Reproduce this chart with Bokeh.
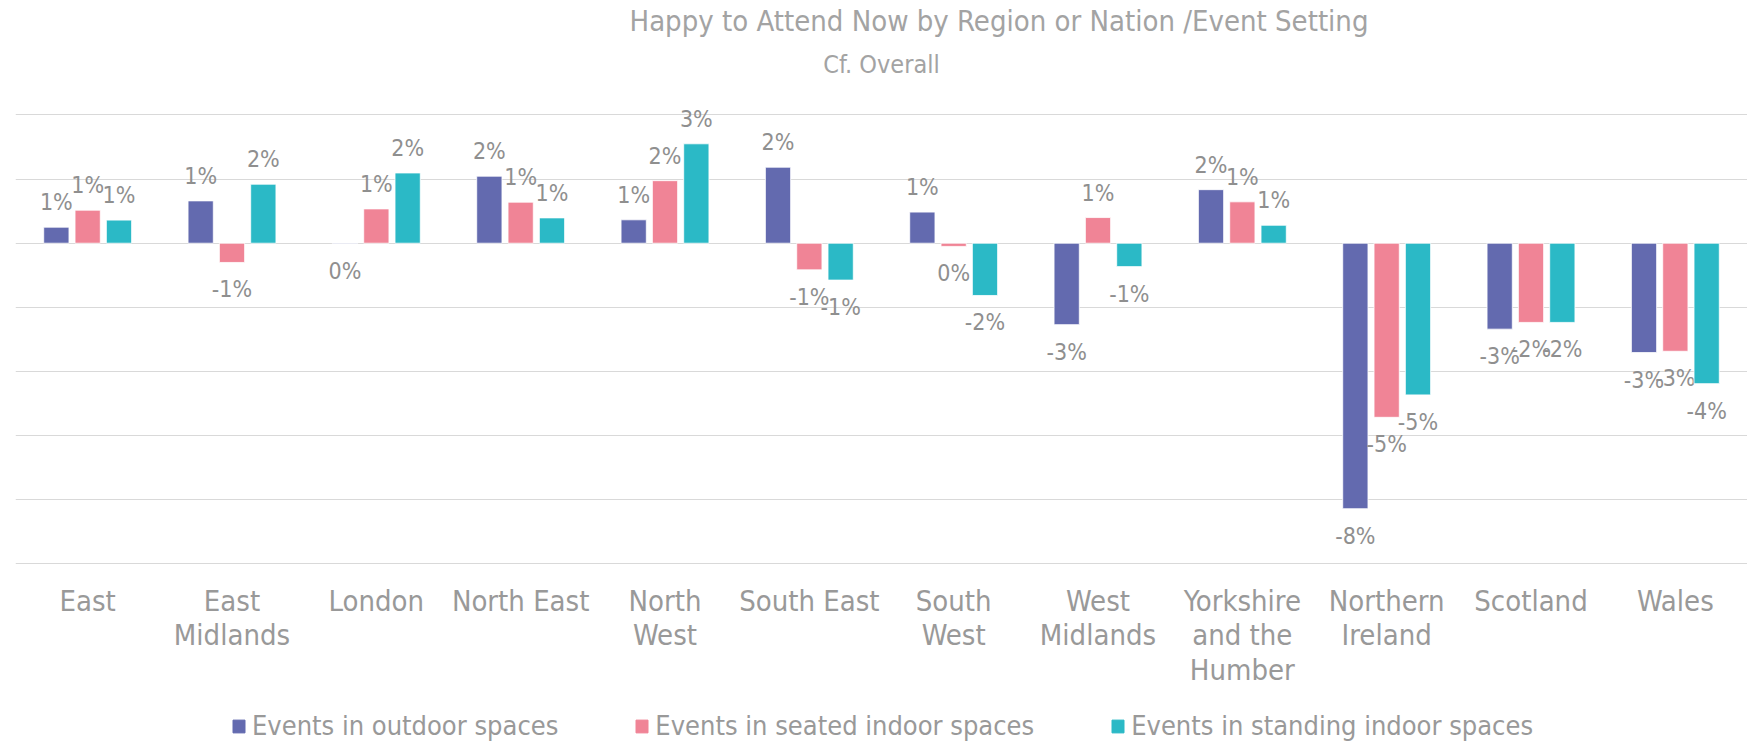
import math
from bokeh.plotting import figure
from bokeh.layouts import column
from bokeh.models import (ColumnDataSource, FactorRange, Range1d, FixedTicker,
                          Legend, LegendItem, Title, CDSView, BooleanFilter)
from bokeh.transform import dodge
from bokeh.core.properties import value
from bokeh.embed import file_html
from bokeh.resources import INLINE

# ---- data (percent points vs overall) ----
regions = ["East", "East\nMidlands", "London", "North East", "North\nWest",
           "South East", "South\nWest", "West\nMidlands",
           "Yorkshire\nand the\nHumber", "Northern\nIreland", "Scotland", "Wales"]
series_names = ["Events in outdoor spaces", "Events in seated indoor spaces",
                "Events in standing indoor spaces"]
outdoor = [0.50, 1.32, -0.02, 2.09, 0.73, 2.37, 0.97, -2.54, 1.67, -8.28, -2.68, -3.41]
seated = [1.03, -0.60, 1.07, 1.28, 1.95, -0.83, -0.10, 0.80, 1.29, -5.43, -2.47, -3.37]
standing = [0.72, 1.84, 2.19, 0.79, 3.10, -1.15, -1.63, -0.73, 0.56, -4.73, -2.47, -4.38]
grid_ticks = [-10, -8, -6, -4, -2, 0, 2, 4]

colors = ["#636AAF", "#F08496", "#2BB9C6"]
FONT = "'Liberation Sans Narrow', 'DejaVu Sans Condensed', 'Open Sans'"
GREY_T = "#a3a3a3"
GREY_L = "#8f8f8f"

p = figure(frame_width=1732, frame_height=472, output_backend="svg",
           toolbar_location=None,
           x_range=FactorRange(*regions, range_padding=0),
           y_range=Range1d(-10.02, 4.7),
           min_border_left=15, min_border_right=0, min_border_top=0,
           min_border_bottom=142, outline_line_color=None)

sub = Title(text="Cf. Overall", align="center", text_font=FONT,
            text_font_size="25px", text_font_style="normal",
            text_color=GREY_T, standoff=27)
main = Title(text="Happy to Attend Now by Region or Nation /Event Setting",
             align="left", text_font=FONT, text_font_size="29px",
             text_font_style="normal", text_color=GREY_T, standoff=-7,
             offset=614)
spacer = Title(text=" ", text_font_size="3px", standoff=0)
p.add_layout(sub, "above")
p.add_layout(main, "above")
p.add_layout(spacer, "above")

p.yaxis.visible = False
p.xgrid.grid_line_color = None
p.ygrid.ticker = FixedTicker(ticks=grid_ticks)
p.ygrid.grid_line_color = "#d9d9d9"
p.ygrid.grid_line_width = 1.2

ax = p.xaxis[0]
ax.axis_line_color = None
ax.major_tick_line_color = None
ax.minor_tick_line_color = None
ax.major_label_text_font = FONT
ax.major_label_text_font_size = "29px"
ax.major_label_text_color = "#999999"
ax.major_label_text_line_height = 1.02
ax.major_label_standoff = 13

# ---- legend strip below the chart (same data, out of its view) ----
lg = figure(width=1747, height=36, output_backend="svg", toolbar_location=None,
            x_range=p.x_range, y_range=Range1d(50, 51),
            min_border=0, outline_line_color=None)
lg.xaxis.visible = False
lg.yaxis.visible = False
lg.xgrid.visible = False
lg.ygrid.visible = False

offsets = [-0.217, 0.0, 0.217]
items = []
for name, vals, col, off in zip(series_names, [outdoor, seated, standing], colors, offsets):
    labels = ["%d%%" % math.floor(v + 0.5) for v in vals]
    src = ColumnDataSource(dict(region=regions, val=vals, lab=labels))
    p.vbar(x=dodge("region", off, range=p.x_range), top="val", bottom=0,
           width=0.175, source=src, fill_color=col, line_color="white",
           line_width=0.8)
    pos = CDSView(filter=BooleanFilter([v >= 0 for v in vals]))
    neg = CDSView(filter=BooleanFilter([v < 0 for v in vals]))
    p.text(x=dodge("region", off, range=p.x_range), y="val", text="lab",
           source=src, view=pos, text_align="center", text_baseline="middle",
           y_offset=-25, text_font=value(FONT), text_font_size="23px",
           text_color=GREY_L)
    p.text(x=dodge("region", off, range=p.x_range), y="val", text="lab",
           source=src, view=neg, text_align="center", text_baseline="middle",
           y_offset=27, text_font=value(FONT), text_font_size="23px",
           text_color=GREY_L)
    r = lg.vbar(x=dodge("region", off, range=p.x_range), top="val", bottom=0,
                width=0.175, source=src, fill_color=col, line_color=col)
    items.append(LegendItem(label=name, renderers=[r]))

legend = Legend(items=items, orientation="horizontal", location=(216, 1),
                label_text_font=FONT, label_text_font_size="27px",
                label_text_color="#999999", glyph_width=15, glyph_height=16,
                spacing=76, label_standoff=6, border_line_color=None,
                background_fill_alpha=0, margin=0, padding=0)
lg.add_layout(legend, "center")

layout = column(p, lg, spacing=0)
open("out.html", "w").write(file_html(layout, INLINE))
